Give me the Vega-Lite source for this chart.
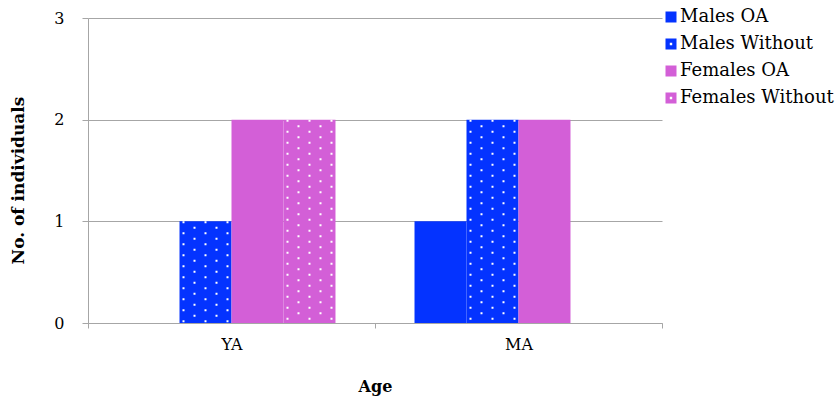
{
  "$schema": "https://vega.github.io/schema/vega-lite/v6.json",
  "width": 574,
  "height": 305,
  "autosize": {"type": "none"},
  "padding": {"left": 88, "top": 18, "right": 177, "bottom": 80},
  "background": "white",
  "config": {
    "view": {"stroke": null},
    "font": "DejaVu Serif",
    "axis": {"labelFont": "DejaVu Serif", "titleFont": "DejaVu Serif", "labelColor": "black", "titleColor": "black"},
    "legend": {"labelFont": "DejaVu Serif", "labelColor": "black"}
  },
  "data": {
    "values": [
      {"Age": "YA", "series": "Males OA", "value": 0},
      {"Age": "YA", "series": "Males Without", "value": 1},
      {"Age": "YA", "series": "Females OA", "value": 2},
      {"Age": "YA", "series": "Females Without", "value": 2},
      {"Age": "MA", "series": "Males OA", "value": 1},
      {"Age": "MA", "series": "Males Without", "value": 2},
      {"Age": "MA", "series": "Females OA", "value": 2},
      {"Age": "MA", "series": "Females Without", "value": 0}
    ]
  },
  "encoding": {
    "x": {
      "field": "Age", "type": "nominal", "sort": ["YA", "MA"],
      "scale": {"paddingInner": 0, "paddingOuter": 0},
      "axis": {
        "title": "Age", "labelAngle": 0, "labelFontSize": 16, "labelPadding": 8,
        "titleFontSize": 16, "titleFontWeight": "bold", "titlePadding": 26,
        "domainColor": "#A6A6A6", "tickColor": "#A6A6A6", "tickSize": 5, "tickBand": "extent"
      }
    },
    "y": {
      "field": "value", "type": "quantitative",
      "scale": {"domain": [0, 3], "nice": false},
      "axis": {
        "title": "No. of individuals", "values": [0, 1, 2, 3], "format": "d",
        "labelFontSize": 16, "labelPadding": 18, "tickSize": 6,
        "titleFontSize": 17, "titleFontWeight": "bold",
        "titleAngle": 270, "titleX": -70, "titleY": 162, "titleAlign": "center", "titleBaseline": "middle",
        "grid": true, "gridColor": "#A6A6A6", "domainColor": "#A6A6A6", "tickColor": "#A6A6A6"
      }
    }
  },
  "layer": [
    {
      "mark": {"type": "bar"},
      "encoding": {
        "xOffset": {
          "field": "series", "type": "nominal",
          "scale": {"domain": ["Males OA", "Males Without", "Females OA", "Females Without"], "paddingInner": 0, "paddingOuter": 0.76}
        },
        "color": {
          "field": "series", "type": "nominal",
          "scale": {"domain": ["Males OA", "Males Without", "Females OA", "Females Without"], "range": ["#0433FF", "#0433FF", "#D35FD7", "#D35FD7"]},
          "legend": {"title": null, "orient": "none", "legendX": 574, "legendY": -10, "symbolSize": 121, "labelFontSize": 18, "labelOffset": 0, "rowPadding": 9, "symbolStrokeWidth": 0, "symbolOpacity": 1, "padding": 0}
        }
      }
    },
    {"transform": [{"filter": "datum.series == 'Males Without'"}], "mark": {"type": "rule", "color": "white", "strokeWidth": 2, "strokeDash": [2, 9], "strokeCap": "butt", "xOffset": -48}, "encoding": {"y2": {"datum": 0}}},
    {"transform": [{"filter": "datum.series == 'Males Without'"}], "mark": {"type": "rule", "color": "white", "strokeWidth": 2, "strokeDash": [2, 9], "strokeDashOffset": 5.5, "strokeCap": "butt", "xOffset": -37}, "encoding": {"y2": {"datum": 0}}},
    {"transform": [{"filter": "datum.series == 'Males Without'"}], "mark": {"type": "rule", "color": "white", "strokeWidth": 2, "strokeDash": [2, 9], "strokeCap": "butt", "xOffset": -26}, "encoding": {"y2": {"datum": 0}}},
    {"transform": [{"filter": "datum.series == 'Males Without'"}], "mark": {"type": "rule", "color": "white", "strokeWidth": 2, "strokeDash": [2, 9], "strokeDashOffset": 5.5, "strokeCap": "butt", "xOffset": -15}, "encoding": {"y2": {"datum": 0}}},
    {"transform": [{"filter": "datum.series == 'Males Without'"}], "mark": {"type": "rule", "color": "white", "strokeWidth": 2, "strokeDash": [2, 9], "strokeCap": "butt", "xOffset": -4}, "encoding": {"y2": {"datum": 0}}},
    {"transform": [{"filter": "datum.series == 'Females Without'"}], "mark": {"type": "rule", "color": "white", "strokeWidth": 2, "strokeDash": [2, 9], "strokeCap": "butt", "xOffset": 56}, "encoding": {"y2": {"datum": 0}}},
    {"transform": [{"filter": "datum.series == 'Females Without'"}], "mark": {"type": "rule", "color": "white", "strokeWidth": 2, "strokeDash": [2, 9], "strokeDashOffset": 5.5, "strokeCap": "butt", "xOffset": 67}, "encoding": {"y2": {"datum": 0}}},
    {"transform": [{"filter": "datum.series == 'Females Without'"}], "mark": {"type": "rule", "color": "white", "strokeWidth": 2, "strokeDash": [2, 9], "strokeCap": "butt", "xOffset": 78}, "encoding": {"y2": {"datum": 0}}},
    {"transform": [{"filter": "datum.series == 'Females Without'"}], "mark": {"type": "rule", "color": "white", "strokeWidth": 2, "strokeDash": [2, 9], "strokeDashOffset": 5.5, "strokeCap": "butt", "xOffset": 89}, "encoding": {"y2": {"datum": 0}}},
    {"transform": [{"filter": "datum.series == 'Females Without'"}], "mark": {"type": "rule", "color": "white", "strokeWidth": 2, "strokeDash": [2, 9], "strokeCap": "butt", "xOffset": 100}, "encoding": {"y2": {"datum": 0}}},
    {
      "transform": [{"filter": "datum.value < 0"}],
      "mark": {"type": "point", "filled": true, "opacity": 1},
      "encoding": {
        "shape": {
          "field": "series", "type": "nominal",
          "scale": {"domain": ["Males OA", "Males Without", "Females OA", "Females Without"], "range": ["square", "M-1,-1L1,-1L1,1L-1,1Z M-0.22,-0.22L-0.22,0.22L0.22,0.22L0.22,-0.22Z", "square", "M-1,-1L1,-1L1,1L-1,1Z M-0.22,-0.22L-0.22,0.22L0.22,0.22L0.22,-0.22Z"]},
          "legend": {"title": null, "orient": "none", "legendX": 574, "legendY": -10, "symbolSize": 121, "labelFontSize": 18, "labelOffset": 0, "rowPadding": 9, "symbolStrokeWidth": 0, "symbolOpacity": 1, "padding": 0}
        }
      }
    }
  ]
}
